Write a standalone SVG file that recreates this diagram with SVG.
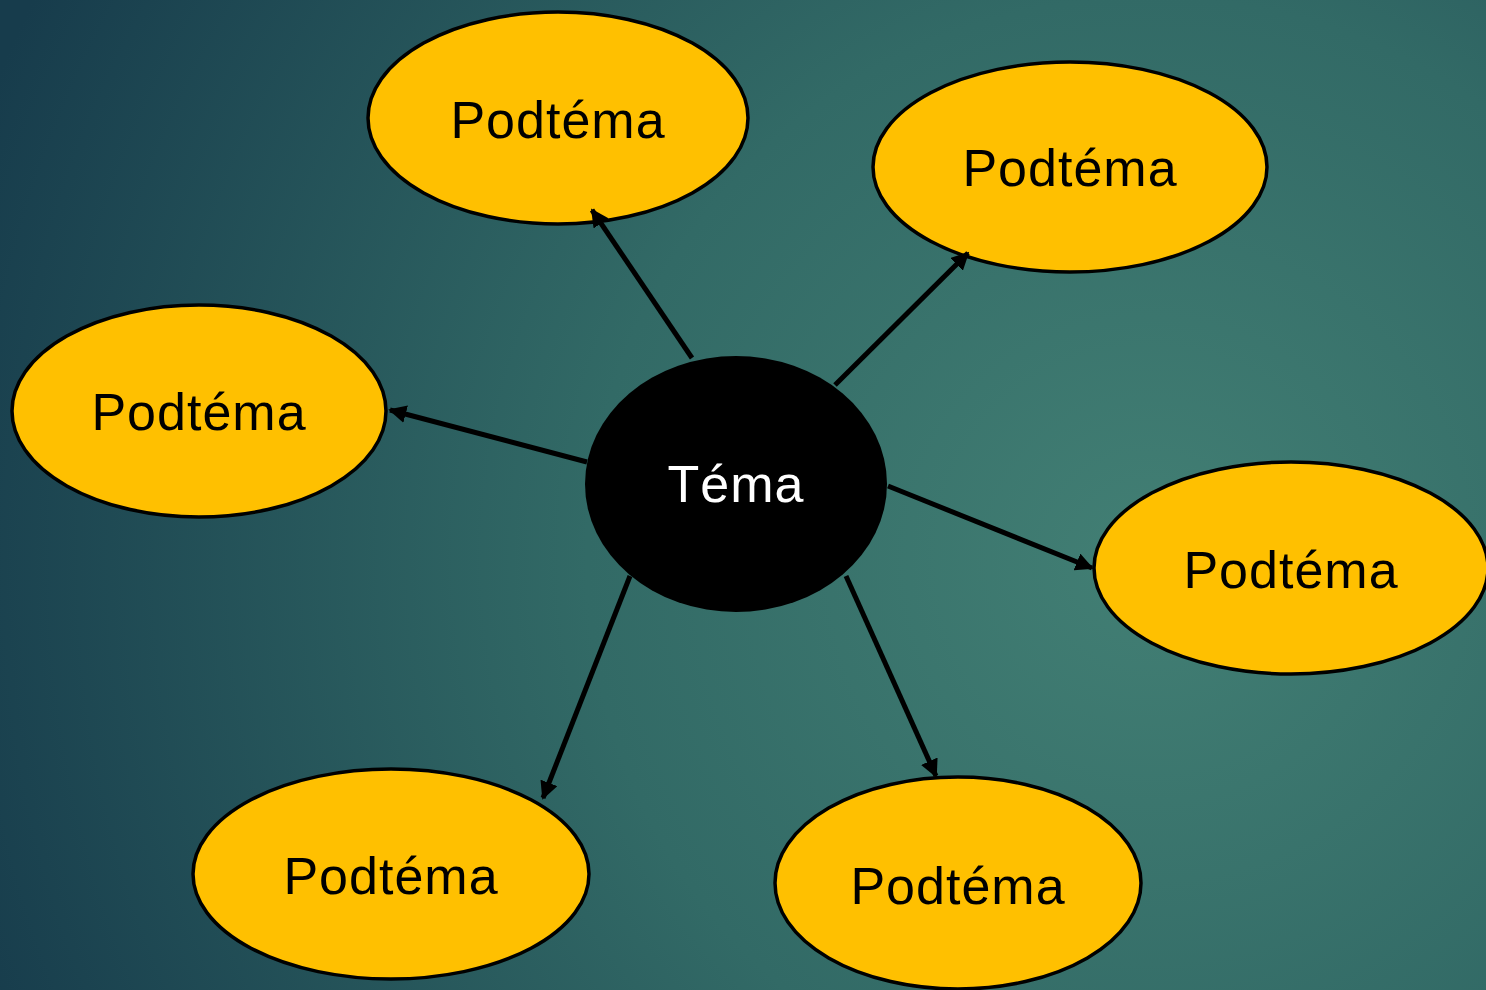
<svg xmlns="http://www.w3.org/2000/svg" width="1486" height="990" viewBox="0 0 1486 990">
<defs>
<radialGradient id="bg" cx="1150" cy="560" r="1250" gradientUnits="userSpaceOnUse">
<stop offset="0" stop-color="#427f74"/>
<stop offset="0.45" stop-color="#326a66"/>
<stop offset="1" stop-color="#173c4c"/>
</radialGradient>
<marker id="ah" viewBox="0 0 10 10" refX="9" refY="5" markerWidth="3.6" markerHeight="3.6" markerUnits="strokeWidth" orient="auto">
<path d="M0,0 L10,5 L0,10 z" fill="#000"/>
</marker>
</defs>
<style>
.sub{fill:#ffc000;stroke:#000;stroke-width:3.5}
.lbl{font-family:"Liberation Sans",Arial,sans-serif;font-size:52px;text-anchor:middle;fill:#000;letter-spacing:1px}
.conn{stroke:#000;stroke-width:5;fill:none;marker-end:url(#ah)}
</style>
<rect width="1486" height="990" fill="url(#bg)"/>
<g id="center">
<ellipse cx="736" cy="484" rx="151" ry="128" fill="#000"/>
<text x="736" y="502" class="lbl" style="fill:#fff">Téma</text>
</g>
<g id="sub-top">
<ellipse class="sub" cx="558" cy="118" rx="190" ry="106"/>
<text x="558" y="138" class="lbl">Podtéma</text>
</g>
<g id="sub-topright">
<ellipse class="sub" cx="1070" cy="167" rx="197" ry="105"/>
<text x="1070" y="186" class="lbl">Podtéma</text>
</g>
<g id="sub-left">
<ellipse class="sub" cx="199" cy="411" rx="187" ry="106"/>
<text x="199" y="430" class="lbl">Podtéma</text>
</g>
<g id="sub-right">
<ellipse class="sub" cx="1291" cy="568" rx="197" ry="106"/>
<text x="1291" y="588" class="lbl">Podtéma</text>
</g>
<g id="sub-bottomleft">
<ellipse class="sub" cx="391" cy="874" rx="198" ry="105"/>
<text x="391" y="894" class="lbl">Podtéma</text>
</g>
<g id="sub-bottomright">
<ellipse class="sub" cx="958" cy="883" rx="183" ry="106"/>
<text x="958" y="904" class="lbl">Podtéma</text>
</g>
<g id="connectors">
<line class="conn" x1="692" y1="358" x2="592" y2="210"/>
<line class="conn" x1="835" y1="385" x2="968" y2="253"/>
<line class="conn" x1="587" y1="462" x2="390" y2="410"/>
<line class="conn" x1="888" y1="486" x2="1092" y2="568"/>
<line class="conn" x1="630" y1="576" x2="543" y2="798"/>
<line class="conn" x1="846" y1="576" x2="936" y2="776"/>
</g>
</svg>
